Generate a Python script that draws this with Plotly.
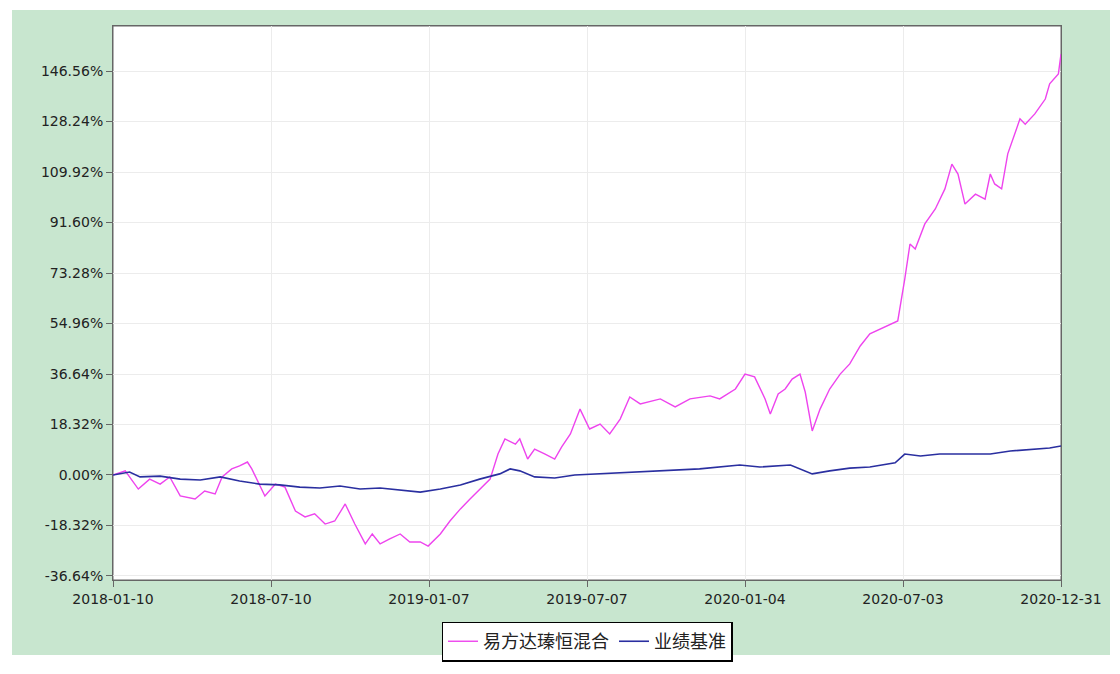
import plotly.graph_objects as go

fund_dates = ["2018-01-10","2018-01-24","2018-02-08","2018-02-21","2018-03-05","2018-03-16","2018-03-28","2018-04-14","2018-04-25","2018-05-07","2018-05-15","2018-05-26","2018-06-04","2018-06-13","2018-06-18","2018-06-25","2018-07-03","2018-07-15","2018-07-26","2018-08-07","2018-08-18","2018-08-29","2018-09-10","2018-09-21","2018-10-03","2018-10-14","2018-10-26","2018-11-03","2018-11-12","2018-11-23","2018-12-05","2018-12-16","2018-12-28","2019-01-06","2019-01-20","2019-01-31","2019-02-12","2019-02-23","2019-03-06","2019-03-18","2019-03-27","2019-04-04","2019-04-16","2019-04-21","2019-04-30","2019-05-08","2019-05-20","2019-05-31","2019-06-08","2019-06-18","2019-06-29","2019-07-10","2019-07-22","2019-08-02","2019-08-14","2019-08-25","2019-09-06","2019-09-29","2019-10-16","2019-11-02","2019-11-25","2019-12-06","2019-12-24","2020-01-04","2020-01-15","2020-01-27","2020-02-02","2020-02-11","2020-02-19","2020-02-27","2020-03-07","2020-03-13","2020-03-21","2020-03-30","2020-04-10","2020-04-22","2020-05-03","2020-05-15","2020-05-26","2020-06-07","2020-06-18","2020-06-27","2020-07-05","2020-07-11","2020-07-17","2020-07-28","2020-08-09","2020-08-20","2020-08-28","2020-09-04","2020-09-12","2020-09-24","2020-10-05","2020-10-11","2020-10-16","2020-10-24","2020-10-31","2020-11-08","2020-11-14","2020-11-20","2020-12-01","2020-12-13","2020-12-18","2020-12-28","2020-12-31"]
fund_vals = [0.0,1.5,-5.1,-1.5,-3.3,-0.7,-7.6,-8.7,-5.8,-6.9,-0.7,2.2,3.3,4.7,2.2,-2.5,-7.6,-3.3,-4.4,-13.1,-15.2,-14.1,-17.8,-16.7,-10.5,-17.8,-25.0,-21.4,-25.0,-23.2,-21.4,-24.3,-24.3,-25.8,-21.4,-16.7,-12.3,-8.7,-5.1,-1.5,7.6,13.1,11.2,13.1,5.8,9.4,7.6,5.8,10.2,14.9,23.9,16.7,18.5,14.9,20.3,28.3,25.8,27.6,24.7,27.6,28.7,27.6,31.2,36.6,35.6,27.6,22.1,29.4,31.2,34.8,36.6,30.1,16.0,23.9,31.2,36.6,40.3,46.8,51.2,53.0,54.8,55.9,71.1,83.8,82.0,91.1,96.5,103.8,112.8,109.2,98.3,101.9,100.1,109.2,105.6,103.8,116.5,123.7,129.2,127.3,131.0,136.4,141.9,145.5,152.7]

bench_dates = ["2018-01-10","2018-01-29","2018-02-10","2018-03-05","2018-03-28","2018-04-20","2018-05-13","2018-06-04","2018-06-27","2018-07-20","2018-08-12","2018-09-04","2018-09-27","2018-10-20","2018-11-12","2018-12-05","2018-12-28","2019-01-20","2019-02-12","2019-03-06","2019-03-29","2019-04-10","2019-04-21","2019-05-08","2019-05-31","2019-06-23","2019-07-22","2019-08-14","2019-09-29","2019-11-13","2019-12-29","2020-01-21","2020-02-25","2020-03-07","2020-03-21","2020-04-10","2020-05-03","2020-05-26","2020-06-24","2020-07-05","2020-07-23","2020-08-14","2020-09-06","2020-10-11","2020-11-03","2020-11-26","2020-12-18","2020-12-31"]
bench_vals = [0.0,1.1,-0.7,-0.4,-1.5,-1.8,-0.7,-2.2,-3.3,-3.6,-4.4,-4.7,-4.0,-5.1,-4.7,-5.4,-6.2,-5.1,-3.6,-1.5,0.4,2.2,1.5,-0.7,-1.1,0.0,0.4,0.7,1.5,2.2,3.6,2.9,3.6,2.2,0.4,1.5,2.5,2.9,4.4,7.6,6.9,7.6,7.6,7.6,8.7,9.4,9.8,10.5]

tick_dates = ["2018-01-10","2018-07-10","2019-01-07","2019-07-07","2020-01-04","2020-07-03","2020-12-31"]
y_ticks = [-36.64,-18.32,0.0,18.32,36.64,54.96,73.28,91.60,109.92,128.24,146.56]

fig = go.Figure()
fig.add_trace(go.Scatter(x=fund_dates, y=fund_vals, mode="lines", name="易方达瑧恒混合",
                         line=dict(color="#ee44ee", width=1.4)))
fig.add_trace(go.Scatter(x=bench_dates, y=bench_vals, mode="lines", name="业绩基准",
                         line=dict(color="#2a2fa0", width=1.6)))

OFF = 8  # page body margin
L, R, T, B = 113 - OFF, 59 + OFF, 26 - OFF, 94 + OFF
pw, ph = 1120 - L - R, 674 - T - B
def px(x): return (x - OFF - L) / pw
def py(y): return 1 - (y - OFF - T) / ph
fig.add_shape(type="rect", xref="paper", yref="paper", x0=px(12), x1=px(1110), y0=py(655), y1=py(10),
              fillcolor="#c8e6cf", line=dict(width=0), layer="below")
fig.add_shape(type="rect", xref="paper", yref="paper", x0=0, x1=1, y0=0, y1=1,
              fillcolor="white", line=dict(color="#666", width=1), layer="below")

fig.update_layout(
    width=1120, height=674, margin=dict(l=L, r=R, t=T, b=B),
    paper_bgcolor="white", plot_bgcolor="rgba(0,0,0,0)",
    font=dict(family="DejaVu Sans", size=14, color="#222"),
    legend=dict(orientation="h", x=0.5, xanchor="center", y=-0.075, yanchor="top",
                bgcolor="white", bordercolor="black", borderwidth=1.5,
                font=dict(family="Noto Sans CJK SC", size=18)),
    xaxis=dict(type="date", range=["2018-01-10","2020-12-31"], tickvals=tick_dates, ticktext=tick_dates,
               showgrid=True, gridcolor="#ececec", ticks="outside", ticklen=6, tickcolor="#666",
               showline=True, linecolor="#666", mirror=True, zeroline=False),
    yaxis=dict(range=[-38.1, 162.9], tickvals=y_ticks, ticktext=[f"{v:.2f}%" for v in y_ticks],
               showgrid=True, gridcolor="#ececec", ticks="outside", ticklen=6, tickcolor="#666",
               showline=True, linecolor="#666", mirror=True, zeroline=False),
)
fig.write_html("out.html")
